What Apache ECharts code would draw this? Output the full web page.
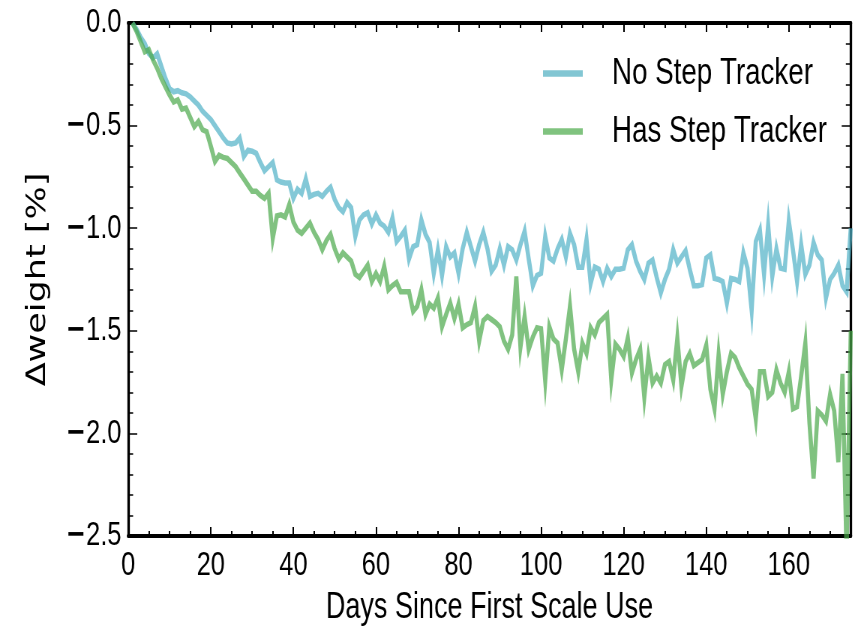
<!DOCTYPE html>
<html>
<head>
<meta charset="utf-8">
<script src="https://cdn.jsdelivr.net/npm/echarts@6/dist/echarts.min.js"></script>
<style>
html,body{margin:0;padding:0;background:#fff;overflow:hidden;width:854px;height:631px;}
#chart{width:1139px;height:631px;transform:scaleX(0.75);transform-origin:0 0;}
</style>
</head>
<body>
<div id="chart"></div>
<script>
// ---- data ----
const days = [];
for (let d = 1; d <= 175; d++) days.push(d);

const noStepTracker = [
  0.00,-0.03,-0.07,-0.10,-0.15,-0.17,-0.15,-0.21,-0.27,-0.32,
  -0.335,-0.33,-0.34,-0.345,-0.36,-0.38,-0.40,-0.43,-0.45,-0.47,
  -0.50,-0.53,-0.56,-0.585,-0.59,-0.585,-0.56,-0.65,-0.62,-0.625,
  -0.635,-0.68,-0.72,-0.70,-0.68,-0.765,-0.775,-0.78,-0.78,-0.855,
  -0.81,-0.83,-0.76,-0.845,-0.835,-0.83,-0.845,-0.82,-0.80,-0.86,
  -0.90,-0.92,-0.875,-0.90,-1.04,-0.96,-0.935,-0.925,-0.98,-0.935,
  -0.975,-0.99,-1.02,-0.95,-1.065,-1.04,-1.01,-1.15,-1.09,-1.08,
  -0.96,-1.03,-1.07,-1.22,-1.105,-1.23,-1.09,-1.14,-1.12,-1.22,
  -1.10,-1.02,-1.09,-1.16,-1.08,-1.02,-1.10,-1.21,-1.18,-1.10,
  -1.18,-1.09,-1.105,-1.155,-1.08,-1.015,-1.15,-1.28,-1.23,-1.22,
  -1.04,-1.145,-1.16,-1.10,-1.055,-1.14,-1.025,-1.08,-1.19,-1.19,
  -1.055,-1.27,-1.19,-1.20,-1.26,-1.195,-1.235,-1.20,-1.20,-1.195,
  -1.105,-1.08,-1.16,-1.21,-1.25,-1.17,-1.155,-1.24,-1.315,-1.25,
  -1.20,-1.105,-1.17,-1.14,-1.11,-1.20,-1.28,-1.28,-1.275,-1.145,
  -1.13,-1.245,-1.25,-1.26,-1.365,-1.245,-1.25,-1.26,-1.12,-1.195,
  -1.40,-1.065,-1.01,-1.225,-0.985,-1.235,-1.10,-1.195,-1.20,-0.965,
  -1.105,-1.26,-1.08,-1.225,-1.18,-1.07,-1.13,-1.155,-1.34,-1.25,
  -1.22,-1.18,-1.28,-1.31,-1.00
];

const hasStepTracker = [
  0.00,-0.04,-0.09,-0.14,-0.13,-0.18,-0.22,-0.27,-0.31,-0.35,
  -0.385,-0.375,-0.42,-0.415,-0.46,-0.505,-0.48,-0.52,-0.53,-0.60,
  -0.675,-0.645,-0.655,-0.66,-0.68,-0.70,-0.73,-0.76,-0.79,-0.82,
  -0.82,-0.84,-0.855,-0.83,-1.05,-0.94,-0.935,-0.945,-0.885,-0.97,
  -1.01,-1.025,-1.00,-0.975,-1.02,-1.055,-1.105,-1.06,-1.03,-1.10,
  -1.15,-1.12,-1.14,-1.16,-1.225,-1.24,-1.21,-1.18,-1.26,-1.22,
  -1.26,-1.185,-1.30,-1.28,-1.265,-1.31,-1.31,-1.31,-1.405,-1.38,
  -1.30,-1.42,-1.37,-1.39,-1.34,-1.48,-1.42,-1.365,-1.44,-1.37,
  -1.485,-1.47,-1.46,-1.38,-1.55,-1.45,-1.43,-1.445,-1.46,-1.48,
  -1.55,-1.59,-1.52,-1.235,-1.58,-1.43,-1.59,-1.53,-1.485,-1.49,
  -1.745,-1.48,-1.54,-1.56,-1.69,-1.54,-1.38,-1.59,-1.70,-1.56,
  -1.61,-1.485,-1.52,-1.46,-1.44,-1.42,-1.74,-1.565,-1.59,-1.625,
  -1.535,-1.705,-1.64,-1.59,-1.825,-1.63,-1.755,-1.72,-1.755,-1.665,
  -1.65,-1.74,-1.535,-1.77,-1.65,-1.61,-1.67,-1.655,-1.64,-1.57,
  -1.785,-1.88,-1.615,-1.81,-1.70,-1.61,-1.63,-1.68,-1.72,-1.76,
  -1.785,-1.93,-1.70,-1.70,-1.82,-1.80,-1.69,-1.755,-1.80,-1.70,
  -1.88,-1.87,-1.72,-1.56,-1.95,-2.22,-1.89,-1.91,-1.94,-1.81,
  -1.89,-2.14,-1.71,-2.60,-1.50
];

const seriesNames = ['No Step Tracker', 'Has Step Tracker'];
const xTickValues = [0, 20, 40, 60, 80, 100, 120, 140, 160];
const yTickLabels = ['\u22122.5', '\u22122.0', '\u22121.5', '\u22121.0', '\u22120.5', '0.0'];
const xTitle = 'Days Since First Scale Use';
const yTitle = '\u0394weight [%]';

// ---- chart ----
const sans = "'Liberation Sans', Arial, sans-serif";
const pairs = (vals) => days.map((d, i) => [d, vals[i]]);

function xAxisDef(pos, interval, tickLen, main) {
  return {
    type: 'value', position: pos, min: 0, max: 175, interval: interval,
    axisLine: { show: main, onZero: false, lineStyle: { color: '#000', width: 4 } },
    axisTick: { show: true, inside: true, length: tickLen, lineStyle: { color: '#000', width: 2 } },
    axisLabel: (main && pos === 'bottom') ? {
      show: true, margin: 13, fontSize: 34, fontFamily: sans, color: '#000', showMaxLabel: false,
      formatter: (v) => xTickValues.indexOf(v) >= 0 ? String(v) : ''
    } : { show: false },
    splitLine: { show: false },
    name: (main && pos === 'bottom') ? xTitle : '',
    nameLocation: 'middle', nameGap: 54,
    nameTextStyle: { fontSize: 36, fontFamily: sans, color: '#000' }
  };
}

function yAxisDef(pos, main) {
  return {
    type: 'value', position: pos, min: -2.5, max: 0, interval: 0.5,
    axisLine: { show: true, onZero: false, lineStyle: { color: '#000', width: 3.3 } },
    axisTick: { show: true, inside: true, length: 12, lineStyle: { color: '#000', width: 1.5 } },
    minorTick: { show: true, splitNumber: 5, length: 6.5, lineStyle: { color: '#000', width: 1.5 } },
    axisLabel: main ? {
      show: true, margin: 9, fontSize: 34, fontFamily: sans, color: '#000',
      formatter: (v) => {
        const s = yTickLabels[Math.round((v + 2.5) / 0.5)];
        return s.charAt(0) === '\u2212' ? '{m|\u2212}' + s.slice(1) : s;
      },
      rich: { m: { fontFamily: "'DejaVu Sans', sans-serif", fontWeight: 'bold', fontSize: 32, color: '#000' } }
    } : { show: false },
    splitLine: { show: false },
    name: main ? yTitle : '',
    nameLocation: 'middle', nameGap: 103,
    nameTextStyle: { fontSize: 35, fontFamily: "'DejaVu Sans', sans-serif", color: '#000' }
  };
}

const chart = echarts.init(document.getElementById('chart'), null, { renderer: 'canvas' });
chart.setOption({
  animation: false,
  backgroundColor: '#fff',
  grid: { left: 171, right: 4.7, top: 23, bottom: 94, containLabel: false },
  legend: {
    orient: 'vertical', left: 724, top: 55, padding: 0,
    itemWidth: 53, itemHeight: 6.5, itemGap: 21, icon: 'rect',
    textStyle: { fontSize: 37, fontFamily: sans, color: '#000', lineHeight: 34, padding: [0, 0, 0, 34] },
    data: seriesNames
  },
  xAxis: [
    xAxisDef('bottom', 20, 9, true),
    xAxisDef('bottom', 5, 5, false),
    xAxisDef('top', 20, 9, true),
    xAxisDef('top', 5, 5, false)
  ],
  yAxis: [
    yAxisDef('left', true),
    yAxisDef('right', false)
  ],
  series: [
    {
      name: seriesNames[0], type: 'line', xAxisIndex: 0, yAxisIndex: 0,
      data: pairs(noStepTracker), showSymbol: false, symbol: 'none', clip: true,
      itemStyle: { color: '#82c6d3' },
      lineStyle: { color: '#4fb1c6', opacity: 0.7, width: 5.5, join: 'miter' }
    },
    {
      name: seriesNames[1], type: 'line', xAxisIndex: 0, yAxisIndex: 0,
      data: pairs(hasStepTracker), showSymbol: false, symbol: 'none', clip: true,
      itemStyle: { color: '#80c37f' },
      lineStyle: { color: '#4aa84a', opacity: 0.7, width: 5.5, join: 'miter' }
    }
  ]
});
</script>
</body>
</html>
